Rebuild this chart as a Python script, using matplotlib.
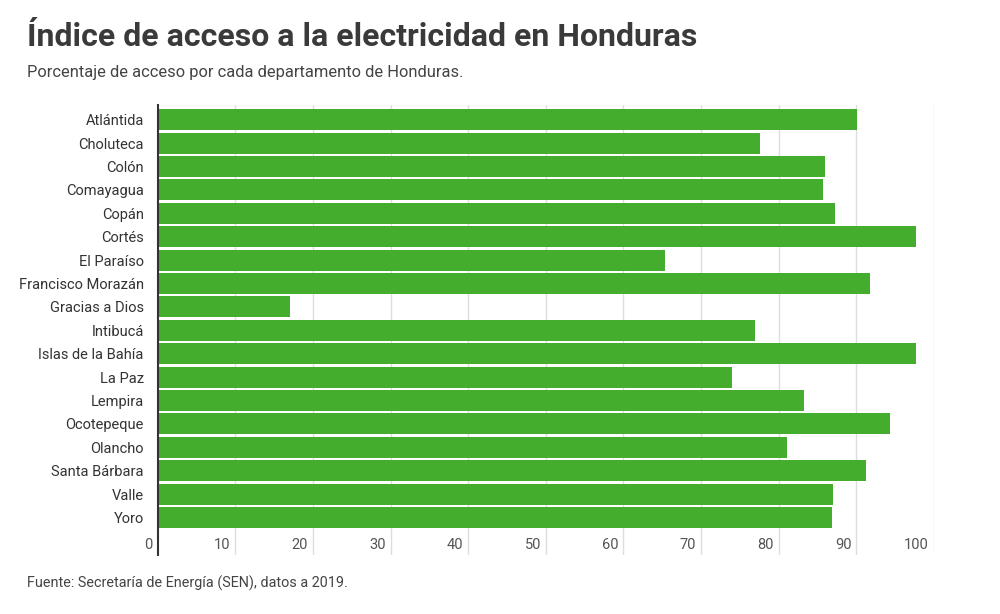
import matplotlib.pyplot as plt
import matplotlib.transforms as mtransforms

# Data
departments = [
    "Atlántida", "Choluteca", "Colón", "Comayagua", "Copán", "Cortés",
    "El Paraíso", "Francisco Morazán", "Gracias a Dios", "Intibucá",
    "Islas de la Bahía", "La Paz", "Lempira", "Ocotepeque", "Olancho",
    "Santa Bárbara", "Valle", "Yoro",
]
access = [
    90.1, 77.6, 86.0, 85.7, 87.2, 97.7,
    65.3, 91.8, 17.0, 76.9,
    97.7, 74.0, 83.2, 94.3, 81.0,
    91.3, 87.0, 86.9,
]
xticks = [0, 10, 20, 30, 40, 50, 60, 70, 80, 90, 100]

title = "Índice de acceso a la electricidad en Honduras"
subtitle = "Porcentaje de acceso por cada departamento de Honduras."
source = "Fuente: Secretaría de Energía (SEN), datos a 2019."

GREEN = "#45ad2d"

plt.rcParams["font.family"] = ["Roboto", "DejaVu Sans"]

W, H = 1000, 614
fig = plt.figure(figsize=(W / 100, H / 100), dpi=100)

# axes in pixel coords: left 157.7, right 934, top 105, bottom 555
left, right, top, bottom = 157.7, 934, 105, 555
ax = fig.add_axes([left / W, 1 - bottom / H, (right - left) / W, (bottom - top) / H])

ypos = list(range(len(departments)))
ax.barh(ypos, access, height=0.9, color=GREEN, zorder=2)

ax.set_xlim(0, 100)
ax.set_ylim(18.6, -0.63)

ax.set_xticks(xticks[1:])
ax.xaxis.grid(True, color="#dddddd", linewidth=1, zorder=0)
ax.tick_params(axis="x", length=0, labelbottom=False)
ax.set_yticks(ypos)
ax.set_yticklabels(departments, fontsize=10.5, color="#333333")
ax.tick_params(axis="y", length=0, pad=10)

for s in ["top", "right", "bottom"]:
    ax.spines[s].set_visible(False)
ax.spines["left"].set_color("#333333")
ax.spines["left"].set_linewidth(1.5)
ax.spines["left"].set_zorder(3)

# x tick labels sit just left of their gridline, below the bars
off = mtransforms.offset_copy(ax.transData, fig=fig, x=-5, y=0, units="dots")
for v in xticks:
    ax.text(v, 18.17, str(v), transform=off, ha="right", va="center",
            fontsize=10.5, color="#555555")

fig.text(27 / W, 1 - 37 / H, title, fontsize=23, fontweight="bold",
         color="#3a3a3a", va="center", ha="left")
fig.text(27 / W, 1 - 73 / H, subtitle, fontsize=11.9, color="#444444",
         va="center", ha="left")
fig.text(27 / W, 1 - 583 / H, source, fontsize=10.4, color="#444444",
         va="center", ha="left")

fig.savefig("out.png", dpi=100)
